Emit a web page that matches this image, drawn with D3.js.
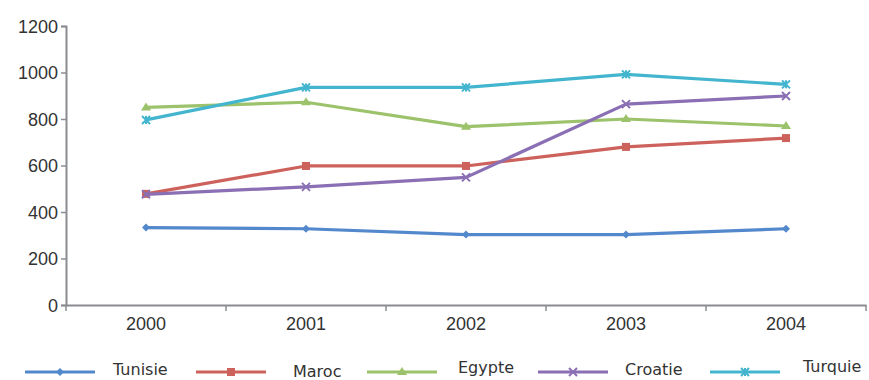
<!DOCTYPE html>
<html><head><meta charset="utf-8">
<script src="https://cdn.jsdelivr.net/npm/d3@7"></script>
<style>body{margin:0;background:#fff}svg{display:block;font-family:"DejaVu Sans",sans-serif}</style>
</head><body>
<script>
const years = ["2000","2001","2002","2003","2004"];
const seriesNames = ["Tunisie","Maroc","Egypte","Croatie","Turquie"];
const tunisie = [333, 328, 303, 303, 328];
const maroc = [478, 598, 598, 680, 718];
const egypte = [850, 872, 767, 800, 770];
const croatie = [476, 508, 549, 864, 899];
const turquie = [796, 936, 936, 992, 949];
const yTicks = [0,200,400,600,800,1000,1200];
const colors = ["#5389cc","#cd625d","#9cc26b","#8a6fb4","#43b5cf"];
const shapes = ["diamond","square","triangle","x","star"];
const allValues = [tunisie, maroc, egypte, croatie, turquie];

const W=869,H=380;
const svg=d3.select("body").append("svg").attr("width",W).attr("height",H);
const x=d3.scaleBand().domain(years).range([66,866]);
const y=d3.scaleLinear().domain([0,1200]).range([305,26]);

// y axis
const ya=svg.append("g").attr("transform","translate(66,0)")
  .call(d3.axisLeft(y).tickValues(yTicks).tickFormat(d3.format("d")).tickSize(5).tickPadding(3));
ya.select(".domain").attr("stroke","#8a8c90").attr("stroke-width",2);
ya.selectAll(".tick line").attr("stroke","#8a8c90").attr("stroke-width",1.5);
ya.selectAll("text").attr("font-size",18).attr("fill","#333").attr("dy","0.35em");

// x axis
const xa=svg.append("g").attr("transform","translate(0,305)")
  .call(d3.axisBottom(x).tickSize(0).tickPadding(12));
xa.select(".domain").attr("stroke","#8a8c90").attr("stroke-width",2);
xa.selectAll("text").attr("font-size",18).attr("fill","#333");
const bounds=years.map(d=>x(d)).concat([x.range()[1]]);
svg.append("g").selectAll("line").data(bounds).join("line")
  .attr("x1",d=>d).attr("x2",d=>d).attr("y1",305).attr("y2",311)
  .attr("stroke","#8a8c90").attr("stroke-width",1.5);

function marker(g,shape,cx,cy,color){
  if(shape==="diamond"){
    g.append("path").attr("d",`M${cx},${cy-4}L${cx+4},${cy}L${cx},${cy+4}L${cx-4},${cy}Z`).attr("fill",color);
  }else if(shape==="square"){
    g.append("rect").attr("x",cx-4).attr("y",cy-4).attr("width",8).attr("height",8).attr("fill",color);
  }else if(shape==="triangle"){
    g.append("path").attr("d",`M${cx},${cy-5}L${cx+5},${cy+3}L${cx-5},${cy+3}Z`).attr("fill",color);
  }else if(shape==="x"){
    g.append("path").attr("d",`M${cx-4},${cy-4}L${cx+4},${cy+4}M${cx+4},${cy-4}L${cx-4},${cy+4}`).attr("stroke",color).attr("stroke-width",2);
  }else{
    g.append("path").attr("d",`M${cx-4},${cy-4}L${cx+4},${cy+4}M${cx+4},${cy-4}L${cx-4},${cy+4}M${cx},${cy-4}L${cx},${cy+4}`).attr("stroke",color).attr("stroke-width",2);
  }
}

const line=d3.line().x((d,i)=>x(years[i])+x.bandwidth()/2).y(d=>y(d));
allValues.forEach((vals,k)=>{
  const g=svg.append("g");
  g.append("path").datum(vals).attr("d",line).attr("fill","none")
    .attr("stroke",colors[k]).attr("stroke-width",3.2).attr("stroke-linejoin","round");
  vals.forEach((v,i)=>marker(g,shapes[k],x(years[i])+x.bandwidth()/2,y(v),colors[k]));
});

// legend
const legX=[25,196,367,538,710];
const legTextX=[113,293,458,625,803];
const legTextY=[369,371,367,369,366];
seriesNames.forEach((n,k)=>{
  const g=svg.append("g");
  g.append("line").attr("x1",legX[k]).attr("x2",legX[k]+70).attr("y1",372).attr("y2",372)
    .attr("stroke",colors[k]).attr("stroke-width",3);
  marker(g,shapes[k],legX[k]+35,372,colors[k]);
  g.append("text").attr("x",legTextX[k]).attr("y",legTextY[k]).attr("dy","0.35em")
    .attr("font-size",16).attr("fill","#333").text(n);
});
</script>
</body></html>
